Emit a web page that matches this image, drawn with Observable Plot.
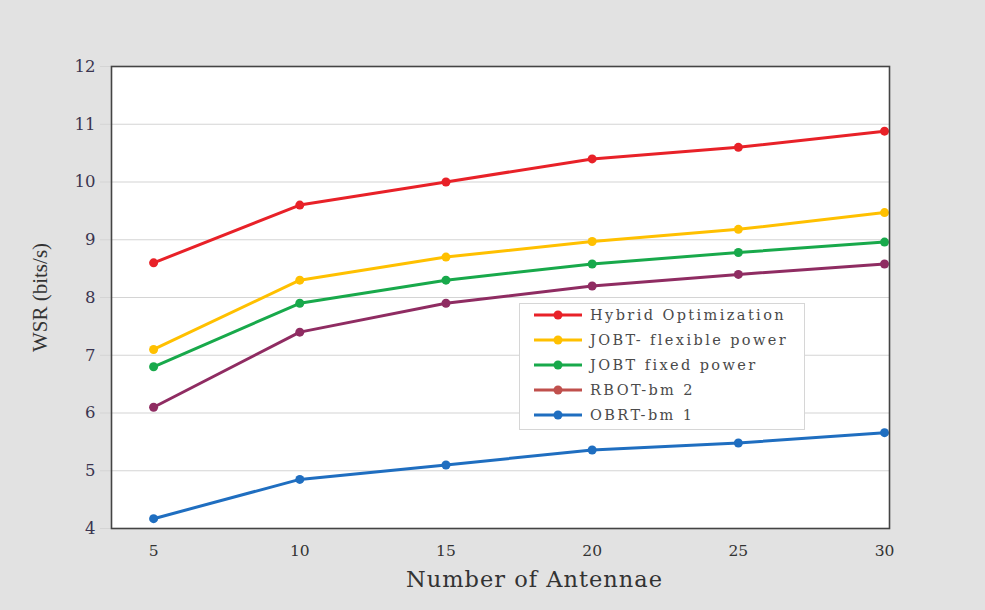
<!DOCTYPE html>
<html><head><meta charset="utf-8">
<script src="https://cdn.jsdelivr.net/npm/d3@7"></script>
<script src="https://cdn.jsdelivr.net/npm/@observablehq/plot@0.6"></script>
<style>
body{margin:0;background:#fff;}
#wrap{position:relative;width:985px;height:610px;}
#legend{position:absolute;left:519px;top:303px;width:286px;height:127px;background:#fff;border:1px solid #d6d6d6;box-sizing:border-box;font-family:"DejaVu Serif",serif;font-size:14.5px;color:#4a4a4a;padding-top:0;}
#legend .row{display:flex;align-items:center;height:25px;}
#legend .row:first-child{margin-top:-2px;}
#legend svg{margin-left:13px;margin-right:7px;}
.ytitle text{font-family:"Liberation Serif",serif !important;}
</style>
</head><body>
<div id="wrap"><div id="legend"></div></div>
<script>
const antennas = [5, 10, 15, 20, 25, 30];
const yTicks = [4, 5, 6, 7, 8, 9, 10, 11, 12];
const xTitle = "Number of Antennae";
const yTitle = "WSR (bits/s)";
const seriesNames = ["Hybrid Optimization", "JOBT- flexible power", "JOBT fixed power", "RBOT-bm 2", "OBRT-bm 1"];
const hybrid   = [8.6, 9.6, 10.0, 10.4, 10.6, 10.88];
const jobtFlex = [7.1, 8.3, 8.7, 8.97, 9.18, 9.47];
const jobtFixed= [6.8, 7.9, 8.3, 8.58, 8.78, 8.96];
const rbot     = [6.1, 7.4, 7.9, 8.2, 8.4, 8.58];
const obrt     = [4.17, 4.85, 5.1, 5.36, 5.48, 5.66];
const lineColors = ["#e82128", "#ffc000", "#18a94b", "#8f2c62", "#1f6ec0"];
const legendColors = ["#e82128", "#ffc000", "#18a94b", "#c0504d", "#1f6ec0"];

const allSeries = [hybrid, jobtFlex, jobtFixed, rbot, obrt];
const data = [];
allSeries.forEach((vals, i) => vals.forEach((v, j) => data.push({series: seriesNames[i], x: antennas[j], y: v})));

const serif = "DejaVu Serif, serif";
const chart = Plot.plot({
  width: 985, height: 610,
  marginLeft: 111, marginRight: 96, marginTop: 66, marginBottom: 82,
  style: {background: "#e2e2e2"},
  x: {domain: [3.56, 30.17]},
  y: {domain: [4, 12]},
  color: {domain: seriesNames, range: lineColors},
  marks: [
    Plot.frame({fill: "white"}),
    Plot.gridY(yTicks, {stroke: "#d4d4d4", strokeOpacity: 1, strokeWidth: 1.2}),
    Plot.axisY(yTicks, {tickSize: 11, stroke: "#d4d4d4", text: null, label: null}),
    Plot.axisY(yTicks, {tickSize: 0, tickPadding: 16, fontSize: 16.5, fontFamily: serif, fill: "#3b3550",
      tickFormat: "d", label: null}),
    Plot.axisX(antennas, {tickSize: 0, tickPadding: 16, fontSize: 15.5, fontFamily: serif, fill: "#333", label: null}),
    Plot.text([yTitle], {frameAnchor: "left", textAnchor: "middle", dx: -71, rotate: -90, fontSize: 21, fill: "#333",
      fontFamily: "'Liberation Serif', serif", className: "ytitle"}),
    Plot.text([xTitle], {frameAnchor: "bottom", dy: 58, dx: 34, fontSize: 22.5, fill: "#333",
      fontFamily: serif, className: "xtitle"}),
    Plot.line(data, {x: "x", y: "y", z: "series", stroke: "series", strokeWidth: 3}),
    Plot.dot(data, {x: "x", y: "y", fill: "series", r: 4.5}),
    Plot.frame({stroke: "#444", strokeWidth: 1.6})
  ]
});
chart.querySelectorAll(".xtitle text").forEach(t => t.style.letterSpacing = "1px");
document.getElementById("wrap").prepend(chart);
chart.style.display = "block";

const leg = document.getElementById("legend");
seriesNames.forEach((name, i) => {
  const row = document.createElement("div");
  row.className = "row";
  row.innerHTML = `<svg width="50" height="12"><line x1="1" x2="49" y1="6" y2="6" stroke="${legendColors[i]}" stroke-width="3"/><circle cx="25" cy="6" r="4.5" fill="${legendColors[i]}"/></svg><span style="letter-spacing:2.4px">${name}</span>`;
  leg.appendChild(row);
});
</script>
</body></html>
